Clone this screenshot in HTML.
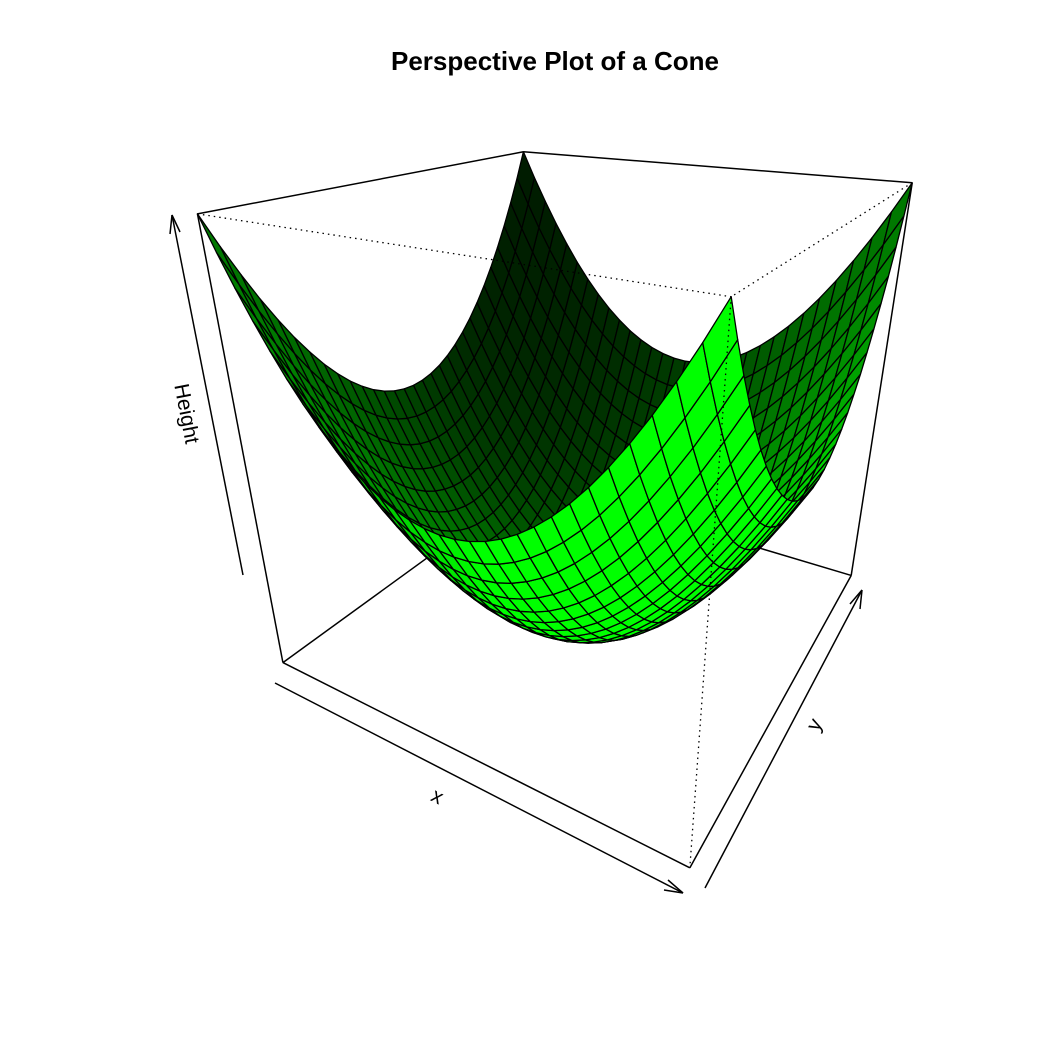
<!DOCTYPE html>
<html><head><meta charset="utf-8"><style>
html,body{margin:0;padding:0;background:#fff;}
svg{display:block;}
text{font-family:"Liberation Sans",sans-serif;}
</style></head><body>
<svg id="chart" width="1050" height="1050" viewBox="0 0 1050 1050" xmlns="http://www.w3.org/2000/svg">
<rect width="1050" height="1050" fill="#fff"/>
<text x="555" y="70" text-anchor="middle" font-size="26" font-weight="bold">Perspective Plot of a Cone</text>
<g id="back"></g>
<g id="surf"></g>
<g id="front"></g>
<g>
<line x1="275" y1="683" x2="683" y2="893" stroke="#000" stroke-width="1.5"/>
<path d="M683 893 L668 880 M683 893 L664 890" stroke="#000" stroke-width="1.5" fill="none"/>
<text x="437" y="803" font-size="21" text-anchor="middle" transform="rotate(27 437 797)">x</text>
<line x1="705" y1="888" x2="862" y2="590" stroke="#000" stroke-width="1.5"/>
<path d="M862 590 L860 609 M862 590 L850 604" stroke="#000" stroke-width="1.5" fill="none"/>
<text x="815" y="731" font-size="21" text-anchor="middle" transform="rotate(-62 815 725)">y</text>
<line x1="243" y1="575" x2="172" y2="215" stroke="#000" stroke-width="1.5"/>
<path d="M172 215 L170 234 M172 215 L180 232" stroke="#000" stroke-width="1.5" fill="none"/>
<text x="180" y="415" font-size="21" text-anchor="middle" transform="rotate(79 180 415)">Height</text>
</g>
</svg>
<script>
const xValues = Array.from({length:31},(_, i)=> -1 + i/15);
const yValues = Array.from({length:31},(_, i)=> -1 + i/15);
const zRange = [0, 2];
// visible box corners on screen (used to fit the camera)
const topC = {A:[198,213], D:[730,297], C:[913,183], B:[523,152]};
const botC = {A:[283,663], D:[690,868], C:[851,575]};
const NS='http://www.w3.org/2000/svg';
const cornerUV={A:[0,0],D:[1,0],C:[1,1],B:[0,1]};
// DLT fit
const rows=[], rhs=[];
function addPt(X,Y,Z,u,v){
  rows.push([X,Y,Z,1,0,0,0,0,-u*X,-u*Y,-u*Z]); rhs.push(u);
  rows.push([0,0,0,0,X,Y,Z,1,-v*X,-v*Y,-v*Z]); rhs.push(v);
}
for(const k in topC){addPt(cornerUV[k][0],cornerUV[k][1],1,topC[k][0],topC[k][1]);}
for(const k in botC){addPt(cornerUV[k][0],cornerUV[k][1],0,botC[k][0],botC[k][1]);}
function solveLS(A,b){
  const n=A[0].length;const M=[];
  for(let i=0;i<n;i++){M.push([]);for(let j=0;j<n;j++){let s=0;for(let r=0;r<A.length;r++)s+=A[r][i]*A[r][j];M[i].push(s);}
    let s=0;for(let r=0;r<A.length;r++)s+=A[r][i]*b[r];M[i].push(s);}
  for(let c=0;c<n;c++){let p=c;for(let r=c+1;r<n;r++)if(Math.abs(M[r][c])>Math.abs(M[p][c]))p=r;
    [M[c],M[p]]=[M[p],M[c]];
    for(let r=0;r<n;r++)if(r!==c){const f=M[r][c]/M[c][c];for(let k=c;k<=n;k++)M[r][k]-=f*M[c][k];}}
  return M.map((r,i)=>r[n]/r[i]);
}
const P=solveLS(rows,rhs);
function proj(X,Y,Z){
  const w=P[8]*X+P[9]*Y+P[10]*Z+1;
  return [(P[0]*X+P[1]*Y+P[2]*Z+P[3])/w,(P[4]*X+P[5]*Y+P[6]*Z+P[7])/w,w];
}
let depthSign = proj(0,1,0.5)[2] > proj(1,0,0.5)[2] ? 1 : -1;
function sx(x){return (x-xValues[0])/(xValues[xValues.length-1]-xValues[0]);}
function sy(y){return (y-yValues[0])/(yValues[yValues.length-1]-yValues[0]);}
function sz(z){return (z-zRange[0])/(zRange[1]-zRange[0]);}
function zf(x,y){return x*x+y*y;}
function line(g,p,q,dash,name){
  const l=document.createElementNS(NS,'line');
  l.setAttribute('x1',p[0]);l.setAttribute('y1',p[1]);l.setAttribute('x2',q[0]);l.setAttribute('y2',q[1]);
  l.setAttribute('stroke','#000');l.setAttribute('stroke-width',dash?1.3:1.5);
  if(dash)l.setAttribute('stroke-dasharray','1.5,4');
  
  
  g.appendChild(l);
}
const back=document.getElementById('back'), front=document.getElementById('front'), surf=document.getElementById('surf');
const c3={};
for(const k in cornerUV){c3[k+'t']=proj(cornerUV[k][0],cornerUV[k][1],1);c3[k+'b']=proj(cornerUV[k][0],cornerUV[k][1],0);}
line(back,c3.Ab,c3.Bb,false,'box-edge');
line(back,c3.Bb,c3.Cb,false,'box-edge');
line(back,c3.Bb,c3.Bt,false,'box-edge');
const L=[-1,1,1.5]; const ln=Math.hypot(...L);
const facets=[];
for(let i=0;i<xValues.length-1;i++)for(let j=0;j<yValues.length-1;j++){
  const x0=xValues[i],x1=xValues[i+1],y0=yValues[j],y1=yValues[j+1];
  const pts=[[x0,y0],[x1,y0],[x1,y1],[x0,y1]].map(([x,y])=>proj(sx(x),sy(y),sz(zf(x,y))));
  const cx=(x0+x1)/2, cy=(y0+y1)/2;
  const n=[-2*cx,-2*cy,1]; const nn=Math.hypot(...n);
  const d=(n[0]*L[0]+n[1]*L[1]+n[2]*L[2])/(nn*ln);
  const g=Math.min(255,Math.round(255*1.2*Math.pow((1+d)/2,2)));
  const cz=proj(sx(cx),sy(cy),sz(zf(cx,cy)))[2]*depthSign;
  facets.push({pts,g,dist:cz});
}
facets.sort((a,b)=>b.dist-a.dist);
for(const f of facets){
  const p=document.createElementNS(NS,'polygon');
  p.setAttribute('points',f.pts.map(q=>q[0].toFixed(1)+','+q[1].toFixed(1)).join(' '));
  p.setAttribute('fill','rgb(0,'+f.g+',0)');
  p.setAttribute('stroke','#000');p.setAttribute('stroke-width','1.3');p.setAttribute('stroke-linejoin','round');
  
  
  surf.appendChild(p);
}
line(front,c3.At,c3.Bt,false,'box-edge');
line(front,c3.Bt,c3.Ct,false,'box-edge');
line(front,c3.At,c3.Ab,false,'box-edge');
line(front,c3.Ct,c3.Cb,false,'box-edge');
line(front,c3.Ab,c3.Db,false,'box-edge');
line(front,c3.Db,c3.Cb,false,'box-edge');
line(front,c3.At,c3.Dt,true,'box-edge-hidden');
line(front,c3.Ct,c3.Dt,true,'box-edge-hidden');
line(front,c3.Dt,c3.Db,true,'box-edge-hidden');
</script>
</body></html>
